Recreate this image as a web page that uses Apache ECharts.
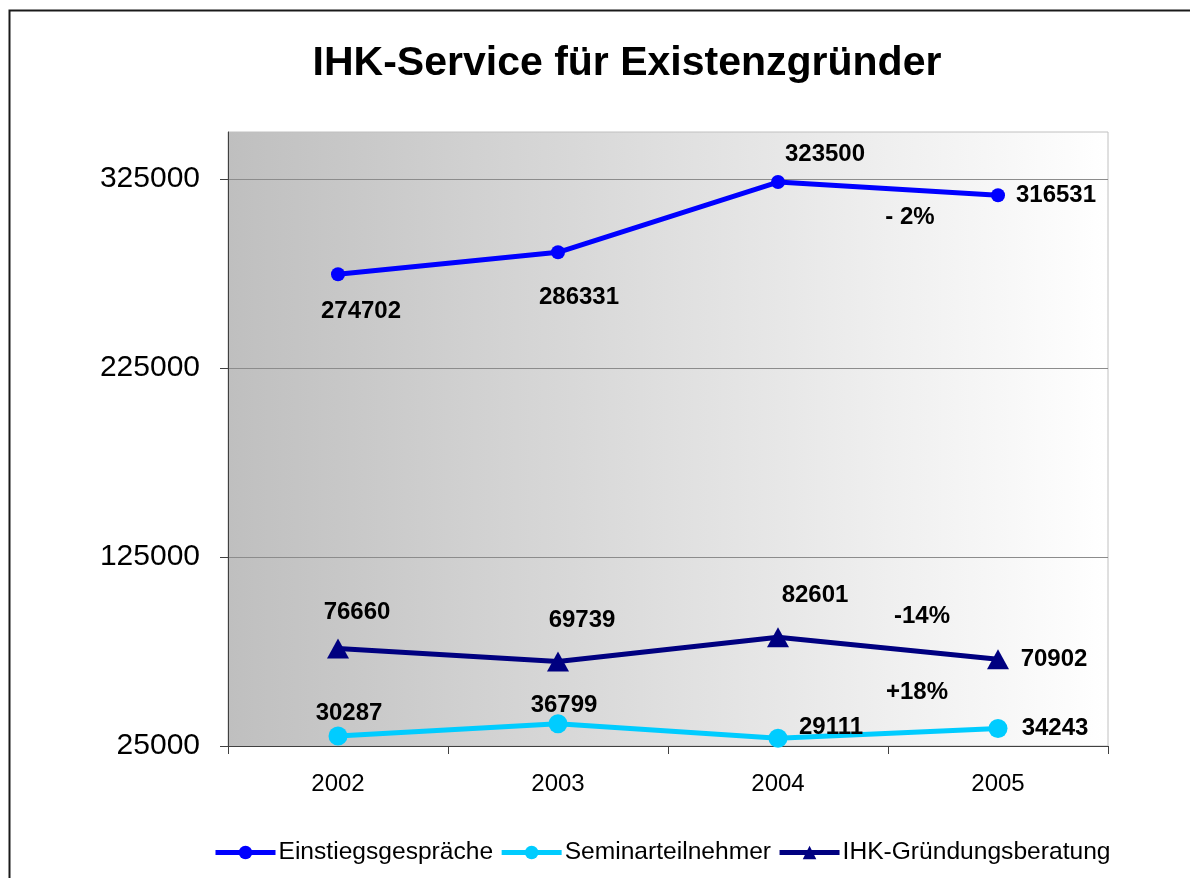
<!DOCTYPE html>
<html>
<head>
<meta charset="utf-8">
<title>IHK-Service für Existenzgründer</title>
<script src="https://cdn.jsdelivr.net/npm/echarts@6/dist/echarts.min.js"></script>
<style>
  html, body { margin: 0; padding: 0; background: #fff; }
  #chart { width: 1190px; height: 878px; }
</style>
</head>
<body>
<div id="chart"></div>
<script>
// Daten aus dem Diagramm
const years = ['2002', '2003', '2004', '2005']
const einstieg = [274702, 286331, 323500, 316531]
const seminar = [30287, 36799, 29111, 34243]
const beratung = [76660, 69739, 82601, 70902]
const yTicks = [25000, 125000, 225000, 325000]

// Veränderung 2004 -> 2005
const changeTexts = ['- 2%', '-14%', '+18%']

// Label-Versatz je Punkt (in Pixel, relativ zum Symbol)
const einstiegOffsets = [[23, 37], [21, 45], [47, -28], [58, 0]]
const seminarOffsets = [[11, -23], [6, -18], [53, -11], [57, 0]]
const beratungOffsets = [[19, -36], [24, -41], [37, -42], [56, 0]]

const font = 'Liberation Sans, Arial, sans-serif'

const chart = echarts.init(document.getElementById('chart'))

const withLabels = (values, offsets) => values.map((v, i) => ({
  value: v,
  label: { offset: offsets[i] }
}))

const labelStyle = {
  show: true,
  position: 'inside',
  fontFamily: font,
  fontSize: 24,
  fontWeight: 'bold',
  color: '#000'
}

const option = {
  animation: false,
  backgroundColor: '#fff',
  title: {
    text: 'IHK-Service für Existenzgründer',
    left: 622,
    textAlign: 'center',
    top: 38,
    textStyle: { fontFamily: font, fontSize: 41, fontWeight: 'bold', color: '#000' }
  },
  legend: {
    left: 208,
    top: 835,
    itemWidth: 60,
    itemHeight: 17,
    itemGap: 6,
    lineStyle: { width: 5 },
    textStyle: { fontFamily: font, fontSize: 24.6, color: '#000', padding: [0, 0, 0, -2] },
    data: ['Einstiegsgespräche', 'Seminarteilnehmer', 'IHK-Gründungsberatung']
  },
  grid: {
    left: 228,
    right: 82,
    top: 132,
    bottom: 132,
    show: true,
    borderColor: '#c0c0c0',
    borderWidth: 1,
    backgroundColor: new echarts.graphic.LinearGradient(0, 0, 1, 0, [
      { offset: 0, color: '#bfbfbf' },
      { offset: 1, color: '#ffffff' }
    ])
  },
  xAxis: {
    type: 'category',
    data: years,
    boundaryGap: true,
    axisLine: { lineStyle: { color: '#404040', width: 1 } },
    axisTick: { show: true, length: 8, lineStyle: { color: '#404040' } },
    axisLabel: { fontFamily: font, fontSize: 24, color: '#000', margin: 26 }
  },
  yAxis: {
    type: 'value',
    min: 25000,
    max: 350000,
    interval: 100000,
    axisLine: { show: true, lineStyle: { color: '#404040', width: 1 } },
    axisTick: { show: true, length: 8, lineStyle: { color: '#404040' }, customValues: yTicks },
    axisLabel: {
      fontFamily: font, fontSize: 30, color: '#000', margin: 28,
      customValues: yTicks,
      formatter: v => String(v)
    },
    splitLine: { show: true, lineStyle: { color: '#8c8c8c', width: 1 } }
  },
  series: [
    {
      name: 'Einstiegsgespräche',
      type: 'line',
      data: withLabels(einstieg, einstiegOffsets),
      symbol: 'circle',
      symbolSize: 14,
      color: '#0000ff',
      lineStyle: { width: 5, color: '#0000ff' },
      label: labelStyle,
      z: 3
    },
    {
      name: 'Seminarteilnehmer',
      type: 'line',
      data: withLabels(seminar, seminarOffsets),
      symbol: 'circle',
      symbolSize: 19,
      color: '#00ccff',
      lineStyle: { width: 5, color: '#00ccff' },
      label: labelStyle,
      z: 3
    },
    {
      name: 'IHK-Gründungsberatung',
      type: 'line',
      data: withLabels(beratung, beratungOffsets),
      symbol: 'triangle',
      symbolSize: [22, 20],
      color: '#000080',
      lineStyle: { width: 5, color: '#000080' },
      label: labelStyle,
      z: 3
    }
  ],
  graphic: [
    {
      type: 'rect',
      left: 7,
      top: 8,
      shape: { width: 1220, height: 920 },
      style: { fill: 'none', stroke: '#1a1a1a', lineWidth: 2 },
      silent: true,
      z: 10
    },
    {
      type: 'text', x: 910, y: 217,
      style: { text: changeTexts[0], font: 'bold 24px ' + font, fill: '#000', textAlign: 'center', textVerticalAlign: 'middle' },
      z: 10
    },
    {
      type: 'text', x: 922, y: 616,
      style: { text: changeTexts[1], font: 'bold 24px ' + font, fill: '#000', textAlign: 'center', textVerticalAlign: 'middle' },
      z: 10
    },
    {
      type: 'text', x: 917, y: 692,
      style: { text: changeTexts[2], font: 'bold 24px ' + font, fill: '#000', textAlign: 'center', textVerticalAlign: 'middle' },
      z: 10
    }
  ]
}

chart.setOption(option)
</script>
</body>
</html>
